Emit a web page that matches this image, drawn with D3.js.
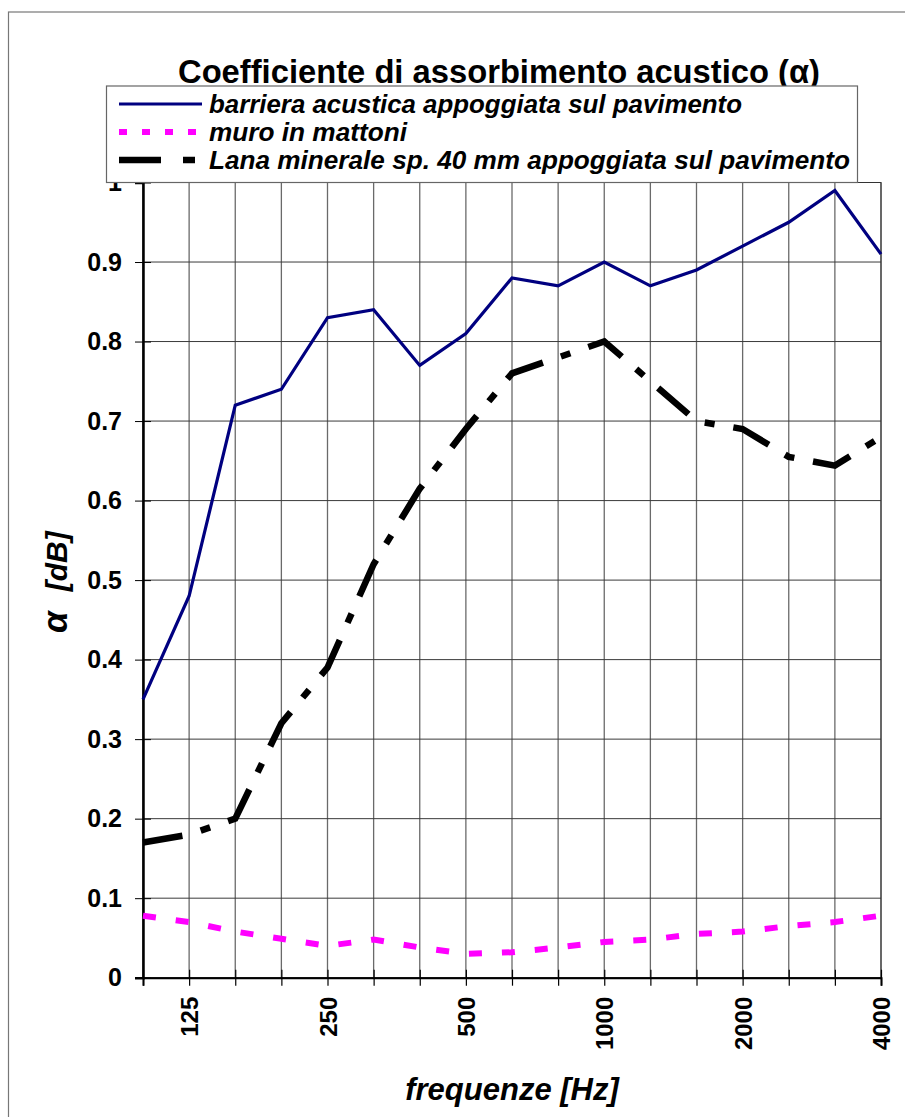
<!DOCTYPE html>
<html><head><meta charset="utf-8">
<script src="https://cdn.jsdelivr.net/npm/d3@7"></script>
<style>body{margin:0;background:#fff}svg{display:block}text{font-family:Arial,"Liberation Sans",sans-serif}</style>
</head><body><svg id="c" width="905" height="1117"></svg>
<script>
const categories = ["100","125","160","200","250","315","400","500","630","800","1000","1250","1600","2000","2500","3150","4000"];
const tickLabels = ["125","250","500","1000","2000","4000"];
const yTicks = [0,0.1,0.2,0.3,0.4,0.5,0.6,0.7,0.8,0.9,1];
const barriera = [0.35,0.48,0.72,0.74,0.83,0.84,0.77,0.81,0.88,0.87,0.90,0.87,0.89,0.92,0.95,0.99,0.91];
const muro = [0.078,0.07,0.058,0.049,0.04,0.048,0.038,0.03,0.032,0.038,0.045,0.048,0.055,0.058,0.065,0.07,0.078];
const lana = [0.17,0.18,0.20,0.32,0.39,0.52,0.615,0.69,0.76,0.78,0.80,0.75,0.70,0.69,0.655,0.644,0.68];
const seriesNames = ["barriera acustica appoggiata sul pavimento","muro in mattoni","Lana minerale sp. 40 mm appoggiata sul pavimento"];

const svg = d3.select("#c");
const L = 143, R = 881, T = 182.5, B = 977.7;
const x = d3.scalePoint().domain(categories).range([L, R]);
const y = d3.scaleLinear().domain([0, 1]).range([B, T]);

svg.append("rect").attr("x",8.5).attr("y",12).attr("width",1000).attr("height",1200)
  .attr("fill","none").attr("stroke","#777").attr("stroke-width",1.2);

const g = svg.append("g");
g.selectAll(".vg").data(categories).join("line")
  .attr("x1",d=>x(d)).attr("x2",d=>x(d)).attr("y1",T).attr("y2",B)
  .attr("stroke","#6a6a6a").attr("stroke-width",1.3);
g.selectAll(".hg").data(yTicks).join("line")
  .attr("x1",L).attr("x2",R).attr("y1",d=>y(d)).attr("y2",d=>y(d))
  .attr("stroke","#3a3a3a").attr("stroke-width",1);
svg.append("rect").attr("x",L).attr("y",T).attr("width",R-L).attr("height",B-T)
  .attr("fill","none").attr("stroke","#333").attr("stroke-width",1);

const yAxis = d3.axisLeft(y).tickValues(yTicks).tickSize(8).tickPadding(13)
  .tickFormat(d => d === 0 ? "0" : (d === 1 ? "1" : d3.format(".1f")(d)));
const ya = svg.append("g").attr("transform",`translate(${L},0)`).call(yAxis);
ya.select(".domain").attr("stroke","#000").attr("stroke-width",2.5);
ya.selectAll(".tick line").attr("stroke","#000").attr("stroke-width",1);
ya.selectAll(".tick text").attr("font-size",25).attr("font-weight","bold").attr("fill","#000")
  .attr("font-family","Arial, 'Liberation Sans', sans-serif");
ya.selectAll(".tick").append("line").attr("x1",0).attr("x2",8).attr("stroke","#000");

const xAxis = d3.axisBottom(x).tickSize(8).tickPadding(10)
  .tickFormat(d => tickLabels.includes(d) ? d : "");
const xa = svg.append("g").attr("transform",`translate(0,${B})`).call(xAxis);
xa.select(".domain").attr("stroke","#000").attr("stroke-width",2);
xa.selectAll(".tick line").attr("stroke","#000").attr("stroke-width",1.2).attr("y1",-8);
xa.selectAll(".tick text").attr("font-size",24).attr("font-weight","bold").attr("fill","#000")
  .attr("font-family","Arial, 'Liberation Sans', sans-serif")
  .attr("transform","rotate(-90)").attr("text-anchor","end").attr("dy","0.36em")
  .attr("x",-19).attr("y",0);

const line = d3.line().x((d,i)=>x(categories[i])).y(d=>y(d));
svg.append("path").datum(muro).attr("d",line).attr("fill","none")
  .attr("stroke","#ff00ff").attr("stroke-width",6).attr("stroke-dasharray","13,20");
svg.append("path").datum(lana).attr("d",line).attr("fill","none")
  .attr("stroke","#000").attr("stroke-width",6.5).attr("stroke-dasharray","40,19,10,19");
svg.append("path").datum(barriera).attr("d",line).attr("fill","none")
  .attr("stroke","#000080").attr("stroke-width",3.2).attr("stroke-linejoin","miter");

// title
svg.append("text").attr("x",178).attr("y",83).attr("font-size",33).attr("font-weight","bold")
  .attr("textLength",642).attr("lengthAdjust","spacingAndGlyphs")
  .text("Coefficiente di assorbimento acustico (α)");

// legend
const lg = svg.append("g");
lg.append("rect").attr("x",106.5).attr("y",86).attr("width",751).attr("height",96.5)
  .attr("fill","#fff").attr("stroke","#666").attr("stroke-width",1.2);
const legStyles = [
  {c:"#000080",w:3.2,d:null},
  {c:"#ff00ff",w:6,d:"8,15"},
  {c:"#000",w:6.5,d:"42,22,12,22"}
];
const legWidths = [533,198,641];
seriesNames.forEach((n,i)=>{
  const yy = 104 + i*28;
  lg.append("line").attr("x1",119).attr("x2",202).attr("y1",yy).attr("y2",yy)
    .attr("stroke",legStyles[i].c).attr("stroke-width",legStyles[i].w)
    .attr("stroke-dasharray",legStyles[i].d);
  lg.append("text").attr("x",209).attr("y",yy+9).attr("font-size",25)
    .attr("font-weight","bold").attr("font-style","italic")
    .attr("textLength",legWidths[i]).attr("lengthAdjust","spacingAndGlyphs").text(n);
});

// axis titles
const yt = svg.append("text").attr("transform","translate(67,633) rotate(-90)")
  .attr("font-size",30).attr("font-weight","bold").attr("font-style","italic");
yt.append("tspan").attr("font-size",35).text("α");
yt.append("tspan").attr("dx",20).text("[dB]");
svg.append("text").attr("x",512).attr("y",1100).attr("text-anchor","middle")
  .attr("font-size",31).attr("font-weight","bold").attr("font-style","italic").text("frequenze [Hz]");
</script></body></html>
